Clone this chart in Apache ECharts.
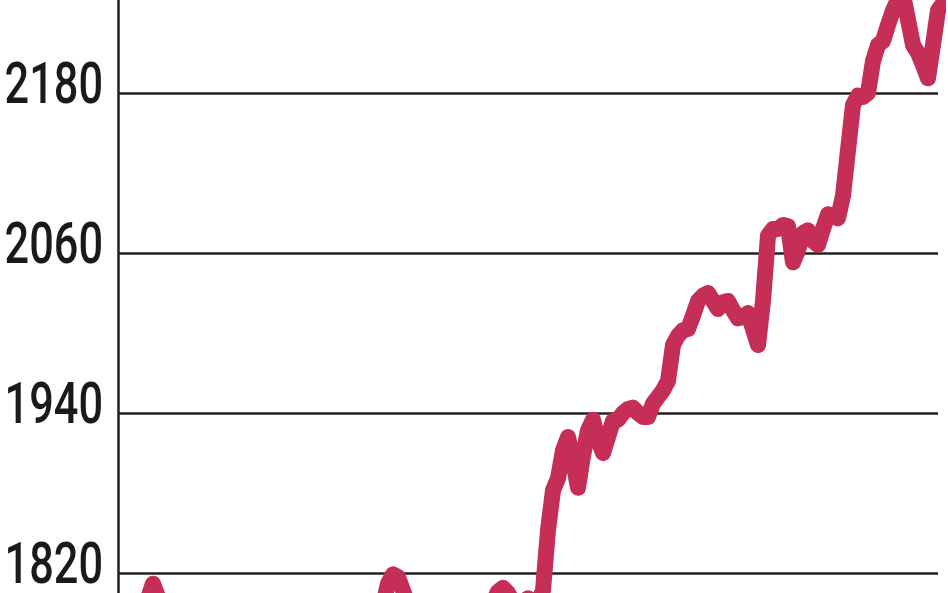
<!DOCTYPE html>
<html>
<head>
<meta charset="utf-8">
<script src="https://cdn.jsdelivr.net/npm/echarts@6/dist/echarts.min.js"></script>
<style>
  html, body { margin: 0; padding: 0; background: #ffffff; }
  #chart { width: 948px; height: 593px; }
</style>
</head>
<body>
<div id="chart"></div>
<script>
// Y-axis tick labels visible in the picture
const yTicks = [1820, 1940, 2060, 2180];

// Series values, one per observation (left to right)
const values = [
  1790, 1791, 1793, 1792, 1794, 1796, 1801, 1812, 1802, 1795,
  1792, 1790, 1788, 1790, 1787, 1785, 1788, 1786, 1784, 1787,
  1789, 1786, 1783, 1785, 1788, 1790, 1787, 1785, 1788, 1791,
  1789, 1786, 1788, 1790, 1787, 1785, 1787, 1790, 1792, 1789,
  1787, 1790, 1792, 1790, 1788, 1791, 1793, 1791, 1789, 1792,
  1794, 1792, 1793, 1796, 1812, 1819, 1817, 1807, 1796, 1792,
  1790, 1788, 1791, 1793, 1790, 1788, 1790, 1792, 1789, 1787,
  1790, 1792, 1790, 1791, 1794, 1798, 1806, 1809, 1805, 1798,
  1795, 1798, 1801, 1799, 1797, 1807, 1852, 1882, 1891, 1912,
  1922, 1904, 1884, 1908, 1927, 1935, 1920, 1910, 1922, 1934,
  1935, 1940, 1943, 1944, 1940, 1937, 1937, 1947, 1952, 1957,
  1964, 1991, 1998, 2002, 2003, 2013, 2024, 2028, 2030, 2024,
  2018, 2023, 2024, 2017, 2011, 2012, 2015, 2003, 1991, 2024,
  2073, 2078, 2078, 2081, 2080, 2053, 2062, 2075, 2077, 2069,
  2066, 2078, 2089, 2088, 2086, 2103, 2137, 2171, 2178, 2177,
  2180, 2204, 2216, 2219, 2231, 2242, 2250, 2254, 2235, 2216,
  2210, 2201, 2191, 2216, 2242, 2247, 2249
];

// Category positions (unlabelled observations)
const categories = values.map((_, i) => String(i + 1));

const step = yTicks[1] - yTicks[0];
const yMin = yTicks[0] - step;
const yMax = yTicks[yTicks.length - 1] + step;

const chart = echarts.init(document.getElementById('chart'), null, { renderer: 'canvas' });
chart.setOption({
  backgroundColor: '#ffffff',
  animation: false,
  grid: { left: 118, right: 10, top: -67, height: 800, containLabel: false, outerBoundsMode: 'none' },
  xAxis: {
    type: 'category',
    data: categories,
    boundaryGap: false,
    max: categories.length - 3,
    axisLine: { show: false },
    axisTick: { show: false },
    axisLabel: { show: false },
    splitLine: { show: false }
  },
  yAxis: {
    type: 'value',
    min: yMin,
    max: yMax,
    interval: step,
    axisLine: { show: true, lineStyle: { color: '#222222', width: 2.5 } },
    axisTick: { show: false },
    axisLabel: { show: false },
    splitLine: { show: true, lineStyle: { color: '#222222', width: 2.5 } }
  },
  series: [{
    type: 'line',
    data: values,
    clip: false,
    showSymbol: false,
    symbol: 'none',
    lineStyle: { color: '#c42e57', width: 16, cap: 'round', join: 'round' },
    emphasis: { disabled: true },
    z: 3
  }]
});

// Condensed tick labels placed through the axis scale
const labelRight = 103;
chart.setOption({
  graphic: yTicks.map(t => ({
    type: 'text',
    x: labelRight,
    y: chart.convertToPixel({ yAxisIndex: 0 }, t) - 4,
    scaleX: 0.76,
    silent: true,
    style: {
      text: String(t),
      fill: '#1a1a1a',
      font: '500 57px Roboto, "Noto Sans", sans-serif',
      align: 'right',
      verticalAlign: 'middle'
    }
  }))
});
</script>
</body>
</html>
